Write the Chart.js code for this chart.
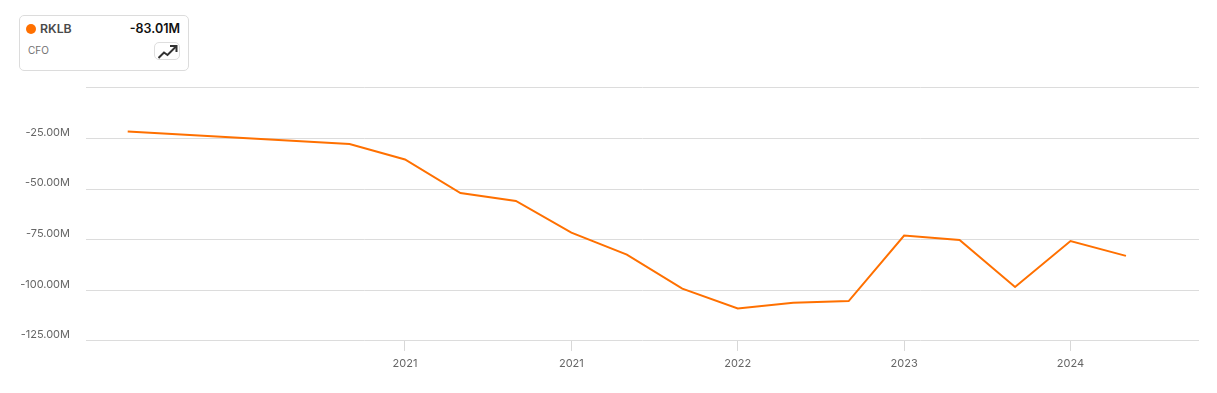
<!DOCTYPE html>
<html>
<head>
<meta charset="utf-8">
<style>
  html, body { margin: 0; padding: 0; background: #fff; }
  body { width: 1217px; height: 393px; position: relative; overflow: hidden; font-family: Inter, sans-serif; }
  #wrap { position: absolute; left: 0; top: 0; width: 1217px; height: 393px; }
  .card { position: absolute; left: 19px; top: 15px; width: 168px; height: 54px; border: 1px solid #dcdcdc; border-radius: 5px; background: #fff; }
  .dot { position: absolute; left: 6px; top: 8px; width: 10px; height: 10px; border-radius: 50%; background: #ff7000; }
  .name { position: absolute; left: 20px; top: 5px; font-size: 12.3px; line-height: 16px; font-weight: 600; color: #4a4a4a; }
  .val { position: absolute; right: 8px; top: 5px; font-size: 12.5px; line-height: 16px; font-weight: 600; color: #111; }
  .sub { position: absolute; left: 8px; top: 27px; font-size: 10px; line-height: 14px; color: #707070; }
  .btn { position: absolute; left: 134px; top: 26px; width: 24px; height: 16px; border: 1px solid #dedede; border-radius: 5px; }
  .btn svg { position: absolute; left: 3px; top: 0; }
</style>
</head>
<body>
<div id="wrap"><canvas id="myChart" width="1217" height="393"></canvas></div>
<div class="card">
  <div class="dot"></div>
  <div class="name">RKLB</div>
  <div class="val">-83.01M</div>
  <div class="sub">CFO</div>
  <div class="btn">
    <svg width="20" height="17" viewBox="0 0 20 17" fill="none" stroke="#333" stroke-width="2">
      <path d="M0.5 15 L6 9.5 L9.5 12 L18 3.5"/>
      <path d="M12 3 H18.5 V9"/>
    </svg>
  </div>
</div>
<script src="https://cdn.jsdelivr.net/npm/chart.js@4"></script>
<script>
// quarter number of each reported point, the first gap has no points
const quarters = [0, 4, 5, 6, 7, 8, 9, 10, 11, 12, 13, 14, 15, 16, 17, 18];
const cfoValues = [-21.6, -27.8, -35.4, -52, -55.9, -71.5, -82.4, -99.2, -109, -106.1, -105.3, -73, -75.2, -98.4, -75.7, -83.01];
const xTickQuarters = [5, 8, 11, 14, 17];
const xTickLabels = ['2021', '2021', '2022', '2023', '2024'];
const yTickValues = [0, -25, -50, -75, -100, -125];

const points = quarters.map((q, i) => ({ x: q, y: cfoValues[i] }));

const ctx = document.getElementById('myChart').getContext('2d');
const myChart = new Chart(ctx, {
    type: 'line',
    data: {
        datasets: [{
            label: 'RKLB',
            data: points,
            borderColor: '#ff7000',
            borderWidth: 2,
            pointRadius: 0,
            tension: 0,
            clip: false
        }]
    },
    options: {
        responsive: false,
        animation: false,
        layout: { padding: { top: 87.7, right: 18, bottom: 0, left: 0 } },
        plugins: { legend: { display: false }, tooltip: { enabled: false } },
        scales: {
            x: {
                type: 'linear',
                min: -0.752,
                max: 19.317,
                border: { display: false },
                grid: { drawOnChartArea: false, drawTicks: true, tickLength: 10, color: '#d8d8d8' },
                afterBuildTicks: function (scale) {
                    scale.ticks = xTickQuarters.map(v => ({ value: v }));
                },
                afterFit: function (scale) { scale.height = 52.05; },
                ticks: {
                    autoSkip: false,
                    maxRotation: 0,
                    padding: 6,
                    color: '#666',
                    font: { family: 'Inter', size: 11 },
                    callback: function (value, index) { return xTickLabels[index]; }
                }
            },
            y: {
                min: -125,
                max: 0,
                border: { display: false },
                grid: { color: '#dcdcdc', tickLength: 0 },
                afterBuildTicks: function (scale) {
                    scale.ticks = yTickValues.map(v => ({ value: v }));
                },
                afterFit: function (scale) { scale.width = 86; },
                ticks: {
                    padding: 16,
                    labelOffset: -6,
                    color: '#666',
                    font: { family: 'Inter', size: 11 },
                    callback: function (value) {
                        return value === 0 ? '' : value.toFixed(2) + 'M';
                    }
                }
            }
        }
    }
});
</script>
</body>
</html>
